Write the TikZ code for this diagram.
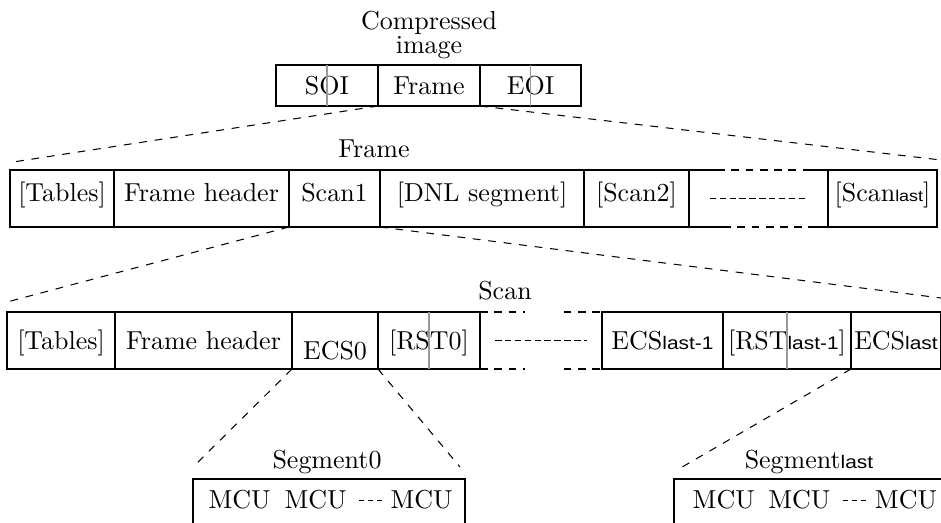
\documentclass[tikz,border=0pt]{standalone}
\usepackage{fontspec}
\newfontfamily\subsans[FakeStretch=1.15]{Liberation Sans}
\usetikzlibrary{positioning}
\newcommand{\lastsub}[2][7pt]{{\subsans\fontsize{#1}{#1}\selectfont #2}}

\begin{document}
\begin{tikzpicture}[
  x=0.385pt, y=-0.385pt,
  cell/.style={rectangle, draw, line width=0.4pt, inner sep=0pt, outer sep=0pt, anchor=north west, text height=7pt, text depth=0.2pt},
  tcell/.style={cell, line width=0.8pt},
  wd/.style={minimum width=#1*0.385pt},
  ht/.style={minimum height=#1*0.385pt},
  mcu/.style={inner sep=0pt, text height=7pt, text depth=0.2pt},
  split/.style={draw=black!40, line width=0.4pt},
  tline/.style={line width=0.8pt},
  zoomline/.style={dashed, line width=0.4pt},
  gapdash/.style={line width=0.8pt, dash pattern=on 3pt off 2.5pt},
  thindash/.style={line width=0.4pt, dash pattern=on 3pt off 2.5pt},
  middash/.style={line width=0.4pt, dash pattern=on 2.5pt off 1.3pt},
  mcudash/.style={line width=0.4pt, dash pattern=on 2pt off 1.5pt}
]
\useasboundingbox (0,0) rectangle (941,522);
\clip (0,0) rectangle (941,522);

\node[align=center] (cimg) at (429,35) {Compressed\\[-2.8pt]image};
\node[cell, wd=102, ht=41] (soi) at (276,65) {SOI};
\node[tcell, wd=102, ht=41, right=0pt of soi] (frm) {Frame};
\node[cell, wd=101, ht=41, right=0pt of frm] (eoi) {EOI};
\draw[split] (soi.north) -- (soi.south);
\draw[split] (eoi.north) -- (eoi.south);

\node (framelbl) at (374,149) {Frame};
\node[tcell, wd=104, ht=57, text depth=5pt] (ftab) at (10,170) {[Tables]};
\node[tcell, wd=175, ht=57, text depth=5pt, right=0pt of ftab] (fhdr) {Frame header};
\node[tcell, wd=91, ht=57, text depth=5pt, right=0pt of fhdr] (scan1) {Scan1};
\node[tcell, wd=204, ht=57, text depth=5pt, right=0pt of scan1] (dnl) {[DNL segment]};
\node[tcell, wd=105, ht=57, text depth=5pt, right=0pt of dnl] (scan2) {[Scan2]};
\node[tcell, draw=none, wd=139, ht=57, right=0pt of scan2] (fdots) {};
\node[tcell, wd=109, ht=57, text depth=5pt, right=0pt of fdots] (scanlast) {[Scan\lastsub[6pt]{last}]};
\draw[tline] (fdots.north west) -- ++(28,0);
\draw[gapdash] (fdots.north west) ++(28,0) -- ++(86,0);
\draw[tline] (fdots.north east) -- ++(-24,0);
\draw[tline] (fdots.south west) -- ++(34,0);
\draw[gapdash] (fdots.south west) ++(34,0) -- ++(84,0);
\draw[tline] (fdots.south east) -- ++(-20,0);
\draw[middash, shorten <=8pt, shorten >=7.7pt] (fdots.west) -- (fdots.east);

\node (scanlbl) at (505,291) {Scan};
\node[tcell, wd=108, ht=57] (stab) at (7,312) {[Tables]};
\node[tcell, wd=177, ht=57, right=0pt of stab] (shdr) {Frame header};
\node[tcell, wd=86, ht=57, text height=15pt, right=0pt of shdr] (ecs0) {ECS0};
\node[cell, wd=102, ht=57, right=0pt of ecs0] (rst0) {[RST0]};
\node[cell, draw=none, wd=122, ht=57, right=0pt of rst0] (sgap) {};
\node[tcell, wd=121, ht=57, right=0pt of sgap] (ecsprev) {ECS\lastsub{last-1}};
\node[cell, wd=128, ht=57, right=0pt of ecsprev] (rstprev) {[RST\lastsub{last-1}]};
\node[tcell, wd=90, ht=57, right=0pt of rstprev] (ecslast) {ECS\lastsub{last}};
\draw[split] (rst0.north) -- (rst0.south);
\draw[split] (rstprev.north) -- (rstprev.south);
\draw[tline] (rst0.north east) -- (rst0.south east);
\draw[gapdash] (sgap.north west) -- ++(45,0);
\draw[gapdash] (sgap.south west) -- ++(45,0);
\draw[thindash] (sgap.north east) ++(-2,0) -- ++(-37,0);
\draw[thindash] (sgap.south east) ++(-2,0) -- ++(-37,0);
\draw[middash, shorten <=5.8pt, shorten >=5.8pt] (sgap.west) -- (sgap.east);

\node (seg0lbl) at (327,462) {Segment0};
\node[tcell, wd=272, ht=70] (seg0) at (193,479) {};
\node[mcu, anchor=west] (s0m1) at ([xshift=5.8pt, yshift=-8.1pt]seg0.north west) {MCU};
\node[mcu, right=5pt of s0m1] (s0m2) {MCU};
\node[mcu, right=16.5pt of s0m2] (s0m3) {MCU};
\draw[mcudash, shorten <=4.6pt, shorten >=3pt] (s0m2.east) -- (s0m3.west);

\node (seglastlbl) at (809,462) {Segment\lastsub{last}};
\node[tcell, wd=272, ht=70] (seglast) at (674,479) {};
\node[mcu, anchor=west] (slm1) at ([xshift=7pt, yshift=-8.1pt]seglast.north west) {MCU};
\node[mcu, right=4.8pt of slm1] (slm2) {MCU};
\node[mcu, right=16.8pt of slm2] (slm3) {MCU};
\draw[mcudash, shorten <=4.6pt, shorten >=3pt] (slm2.east) -- (slm3.west);

\coordinate (frmleft) at (13,162);
\coordinate (frmright) at (941,160);
\coordinate (scanleft) at (7,302);
\coordinate (scanright) at (941,298);
\coordinate (seg0left) at (193,467);
\coordinate (seg0right) at (460,467);
\coordinate (seglastleft) at (677,470);
\draw[zoomline] (frm.south west) -- (frmleft);
\draw[zoomline] (frm.south east) -- (frmright);
\draw[zoomline] (scan1.south west) -- (scanleft);
\draw[zoomline] (scan1.south east) -- (scanright);
\draw[zoomline] (ecs0.south west) -- (seg0left);
\draw[zoomline] (ecs0.south east) -- (seg0right);
\draw[zoomline] (ecslast.south west) -- (seglastleft);
\end{tikzpicture}
\end{document}
